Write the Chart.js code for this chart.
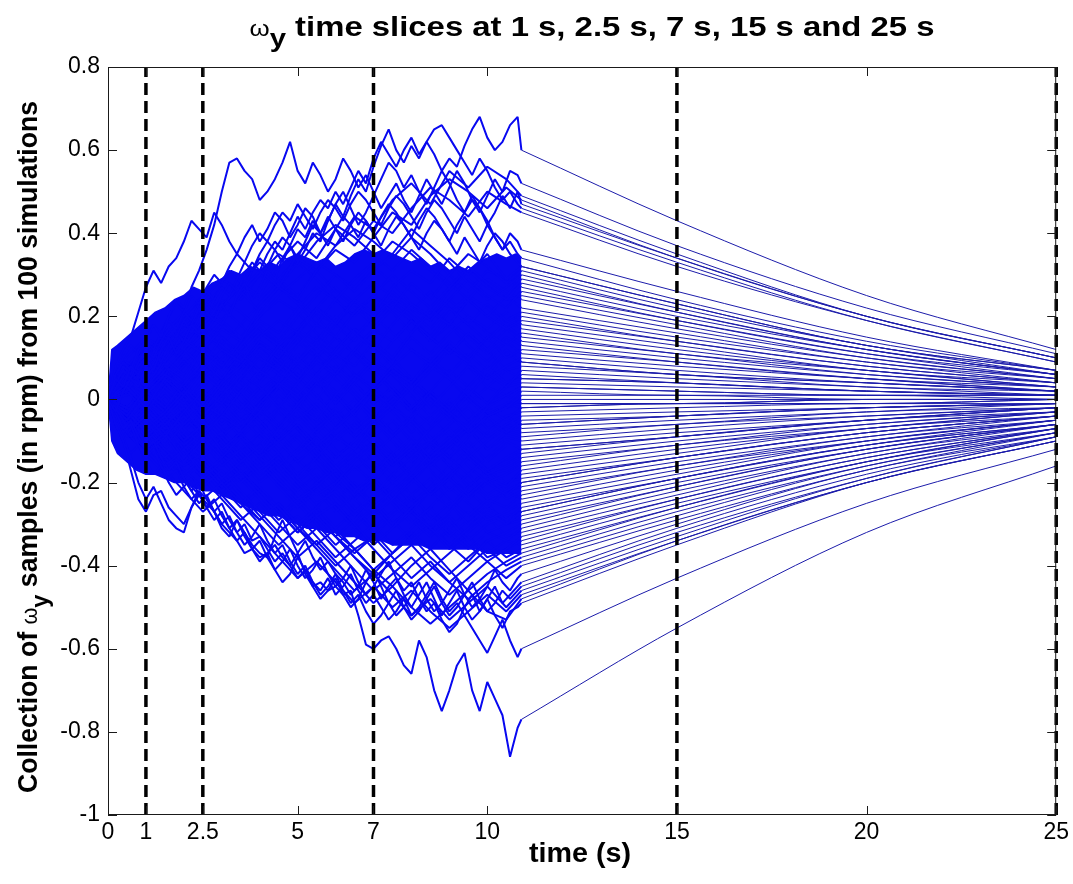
<!DOCTYPE html>
<html>
<head>
<meta charset="utf-8">
<script src="https://cdn.jsdelivr.net/npm/chart.js@4.4.1/dist/chart.umd.min.js"></script>
<style>
  html, body { margin: 0; padding: 0; background: #fff; }
  #wrap { width: 1073px; height: 884px; }
</style>
</head>
<body>
<div id="wrap"><canvas id="omegaChart" width="1073" height="884"></canvas></div>
<script>
// sample times (s)
const tCoarse = [0, 0.5, 1, 1.5, 2, 2.5, 3, 3.5, 4, 4.5, 5, 5.5, 6, 6.5, 7, 7.5, 8, 8.5, 9, 9.5, 10, 10.5, 10.9];
const tFine = [0, 0.2, 0.4, 0.6, 0.8, 1, 1.2, 1.4, 1.6, 1.8, 2, 2.2, 2.4, 2.6, 2.8, 3, 3.2, 3.4, 3.6, 3.8,
  4, 4.2, 4.4, 4.6, 4.8, 5, 5.2, 5.4, 5.6, 5.8, 6, 6.2, 6.4, 6.6, 6.8, 7, 7.2, 7.4, 7.6, 7.8,
  8, 8.2, 8.4, 8.6, 8.8, 9, 9.2, 9.4, 9.6, 9.8, 10, 10.2, 10.4, 10.6, 10.8, 10.9];
const tTail = [10.9, 15, 20, 25];

const sliceTimes = [1, 2.5, 7, 15, 25];
const xTicks = [0, 1, 2.5, 5, 7, 10, 15, 20, 25];
const yTicks = [-1, -0.8, -0.6, -0.4, -0.2, 0, 0.2, 0.4, 0.6, 0.8];

// edges of the region where the 100 traces overlap into solid blue (rpm)
const coreTimes = [0, 0.1, 0.25, 0.5, 0.75, 1, 1.25, 1.5, 1.75, 2, 2.25, 2.5, 2.75, 3, 3.25, 3.5, 3.75,
  4, 4.25, 4.5, 4.75, 5, 5.25, 5.5, 5.75, 6, 6.25, 6.5, 6.75, 7, 7.25, 7.5, 7.75,
  8, 8.25, 8.5, 8.75, 9, 9.25, 9.5, 9.75, 10, 10.25, 10.5, 10.75, 10.9];
const coreTop = [0, 0.12, 0.13, 0.15, 0.17, 0.19, 0.21, 0.22, 0.24, 0.25, 0.27, 0.26, 0.28, 0.29, 0.31, 0.3, 0.32,
  0.31, 0.33, 0.32, 0.34, 0.35, 0.34, 0.33, 0.34, 0.32, 0.33, 0.35, 0.36, 0.35, 0.36, 0.35, 0.34,
  0.33, 0.34, 0.32, 0.33, 0.31, 0.32, 0.31, 0.33, 0.34, 0.35, 0.34, 0.35, 0.34];
const coreBottom = [0, -0.1, -0.13, -0.15, -0.17, -0.18, -0.18, -0.19, -0.2, -0.2, -0.21, -0.22, -0.22, -0.23, -0.24, -0.25, -0.26,
  -0.27, -0.28, -0.28, -0.29, -0.3, -0.31, -0.31, -0.32, -0.32, -0.33, -0.33, -0.34, -0.34, -0.34, -0.35, -0.35,
  -0.35, -0.35, -0.36, -0.36, -0.36, -0.36, -0.36, -0.36, -0.37, -0.37, -0.37, -0.37, -0.37];

// outer traces, every 0.2 s, in 0.01 rpm; after "|" the values at 15, 20 and 25 s
const edgeRuns = [
  "0 5 3 8 6 10 7 12 15 11 14 18 16 21 19 23 20 25 28 24 27 31 29 34 37 33 36 40 38 43 47 44 49 53 50 56 61 65 60 57 61 58 62 59 55 58 56 61 65 68 63 60 62 66 68 60 | 43 25 12",
  "0 6 9 7 12 14 18 15 20 24 22 27 31 36 42 50 57 58 55 53 48 50 53 57 62 55 52 57 54 50 53 58 55 51 54 50 46 49 52 48 45 49 53 50 47 51 55 52 48 45 49 53 50 55 54 52 | 37 22 11",
  "0 8 12 15 21 27 31 28 32 34 38 43 41 39 45 42 38 35 39 42 38 41 45 43 39 42 46 44 40 43 47 50 46 42 45 49 53 57 55 51 54 50 47 51 55 52 48 45 49 46 42 45 49 46 50 47 | 34 20 10",
  "0 4 7 5 9 12 10 14 17 15 19 16 20 23 21 25 28 26 30 33 31 35 38 36 40 44 41 45 48 46 50 47 51 55 52 58 62 59 56 60 63 59 62 65 66 63 60 57 54 58 55 51 48 50 47 46 | 33 19 9",
  "0 4 8 6 11 14 12 16 19 17 21 25 23 27 30 28 32 35 33 37 40 38 42 45 43 47 44 41 45 48 46 43 47 50 48 45 42 46 49 47 44 41 45 48 46 43 40 44 41 38 42 39 36 40 38 36 | 26 15 7",
  "0 -3 2 5 3 8 11 9 13 16 14 18 22 20 24 27 25 29 33 31 35 38 36 33 37 41 39 43 40 37 41 44 42 39 43 40 44 47 45 42 39 43 46 44 41 38 42 45 48 46 43 39 36 38 35 34 | 24 14 7",
  "0 6 10 13 11 15 18 16 20 23 21 19 23 26 24 28 31 29 27 31 34 32 36 39 37 34 38 42 40 44 41 38 42 45 43 40 37 41 44 42 39 36 40 43 41 38 35 39 36 33 37 40 38 35 33 32 | 23 13 7",
  "0 -6 -10 -17 -24 -27 -23 -22 -26 -28 -30 -26 -23 -25 -27 -30 -32 -34 -37 -36 -38 -37 -35 -38 -40 -37 -42 -45 -44 -46 -45 -47 -46 -52 -59 -60 -58 -57 -60 -64 -66 -58 -62 -70 -75 -70 -64 -61 -70 -75 -68 -72 -76 -86 -79 -77 | -55 -32 -16",
  "0 -3 -7 -5 -9 -12 -10 -14 -17 -15 -19 -22 -20 -24 -27 -25 -29 -32 -30 -34 -33 -36 -39 -37 -40 -43 -41 -44 -46 -43 -47 -45 -42 -46 -49 -47 -50 -53 -51 -48 -52 -50 -47 -44 -48 -51 -49 -52 -55 -58 -61 -57 -53 -58 -62 -60 | -43 -25 -12",
  "0 -5 -9 -14 -20 -24 -21 -25 -29 -31 -32 -26 -22 -24 -27 -31 -33 -29 -32 -35 -37 -38 -33 -29 -33 -37 -34 -38 -41 -39 -42 -44 -47 -45 -41 -44 -48 -45 -43 -47 -50 -47 -44 -48 -52 -49 -46 -50 -53 -51 -48 -52 -55 -51 -50 -49 | -35 -20 -10",
  "0 -4 -8 -6 -11 -14 -12 -16 -19 -17 -21 -24 -22 -26 -29 -27 -31 -34 -32 -36 -39 -37 -41 -44 -42 -38 -41 -45 -48 -46 -43 -47 -50 -48 -44 -41 -45 -49 -52 -50 -47 -44 -48 -51 -49 -46 -43 -47 -50 -48 -45 -41 -44 -46 -43 -42 | -30 -17 -9",
  "0 -6 -10 -13 -11 -15 -18 -16 -20 -23 -21 -19 -23 -26 -24 -28 -31 -29 -33 -36 -34 -38 -41 -39 -36 -40 -43 -41 -38 -42 -45 -43 -40 -44 -47 -45 -42 -39 -43 -46 -44 -48 -51 -49 -53 -56 -54 -50 -47 -51 -48 -45 -49 -47 -45 -44 | -31 -18 -9",
  "0 -2 -5 -9 -7 -12 -10 -14 -17 -15 -19 -22 -25 -23 -27 -30 -28 -32 -35 -33 -30 -34 -37 -35 -39 -42 -40 -44 -47 -45 -42 -46 -49 -47 -51 -54 -52 -49 -46 -50 -53 -51 -48 -45 -49 -52 -50 -47 -44 -48 -51 -49 -46 -48 -46 -45 | -32 -19 -9"
];

// remaining traces, every 0.5 s, same units
const runs = [
  "0 7 12 9 16 21 18 26 31 27 35 40 37 44 41 48 52 47 55 51 56 53 49 | 35 20 10",
  "0 -4 3 8 5 12 17 14 22 27 24 31 36 33 39 45 42 49 53 50 46 51 48 | 34 20 10",
  "0 9 6 13 18 15 22 28 25 33 38 34 41 37 43 40 46 51 48 44 50 47 45 | 32 19 9",
  "0 3 -2 5 1 7 12 9 15 19 16 22 18 24 21 27 31 28 34 30 35 29 32 | 23 13 7",
  "0 -8 -4 -9 -3 2 -1 5 10 7 13 18 15 21 25 22 28 24 30 35 32 28 31 | 22 13 6",
  "0 6 2 9 14 11 18 14 20 25 29 33 30 26 31 35 41 37 33 28 24 27 30 | 21 12 6",
  "0 10 15 12 19 24 29 26 21 27 23 18 24 29 33 38 35 31 27 32 28 25 29 | 21 12 6",
  "0 -3 2 -2 4 9 5 11 7 13 17 14 20 16 12 18 23 20 26 31 27 24 28 | 20 12 6",
  "0 4 9 15 12 18 23 27 24 29 34 31 37 41 38 34 39 35 30 26 31 29 27 | 19 11 6",
  "0 -5 1 6 3 -2 4 8 13 10 16 12 18 23 20 26 22 19 24 29 25 22 26 | 19 11 5",
  "0 7 3 10 6 12 8 14 19 16 22 27 24 20 25 30 26 22 27 31 28 24 25 | 18 10 5",
  "0 2 8 13 18 22 19 25 30 35 32 38 42 39 35 31 36 32 28 24 29 26 24 | 17 10 5",
  "0 -7 -12 -8 -14 -9 -4 -7 -1 4 1 6 11 8 14 10 16 21 18 24 20 25 22 | 16 9 5",
  "0 6 12 8 3 9 5 11 16 13 9 14 10 15 20 24 21 17 22 18 23 19 21 | 15 9 4",
  "0 -2 -7 -3 2 -4 1 6 3 -2 4 9 6 12 17 14 19 15 21 25 22 18 20 | 14 8 4",
  "0 9 5 12 17 22 27 24 30 27 33 29 24 20 25 21 16 22 18 24 20 17 19 | 14 8 4",
  "0 4 -1 -6 -2 -8 -4 2 7 4 10 6 12 17 13 9 15 11 16 20 17 21 18 | 13 7 4",
  "0 -4 2 7 12 8 15 11 6 12 17 22 19 24 28 25 21 26 22 18 14 19 17 | 12 7 3",
  "0 8 13 10 15 11 7 13 18 14 20 25 30 27 32 28 23 19 24 20 16 13 16 | 11 7 3",
  "0 -6 -11 -16 -12 -18 -14 -9 -13 -7 -2 -5 1 6 3 8 12 9 14 10 15 18 15 | 11 6 3",
  "0 3 8 4 10 6 2 8 13 9 5 11 7 12 8 14 19 15 11 16 12 17 14 | 10 6 3",
  "0 5 10 15 20 25 22 28 33 29 25 31 26 22 18 23 19 14 19 15 11 15 13 | 9 5 3",
  "0 -9 -5 -11 -6 -1 -4 2 -3 3 8 5 -1 4 9 6 2 7 12 9 15 10 12 | 9 5 2",
  "0 2 -3 3 -1 5 9 6 12 8 4 10 15 11 17 22 19 14 18 13 9 14 11 | 8 5 2",
  "0 6 11 16 13 19 24 21 17 12 16 21 18 14 20 16 12 8 13 9 5 8 10 | 7 4 2",
  "0 -3 -8 -4 -10 -6 -12 -8 -3 -7 -1 4 1 -4 2 7 4 10 6 11 7 12 9 | 6 4 2",
  "0 7 2 8 4 -1 5 1 7 12 9 15 11 6 2 7 3 -2 3 8 5 11 9 | 6 4 2",
  "0 -5 0 -4 1 -3 3 8 14 11 17 22 27 23 19 24 20 15 11 16 12 7 8 | 6 3 2",
  "0 4 9 5 1 -4 1 -3 2 6 3 -2 -7 -3 2 -2 3 8 5 1 6 3 7 | 5 3 1",
  "0 -8 -13 -9 -15 -10 -16 -12 -17 -13 -19 -14 -9 -12 -6 -2 -5 1 -3 3 -1 4 6 | 4 2 1",
  "0 5 1 6 11 16 13 9 4 9 5 0 6 11 7 2 -3 2 -2 3 8 4 5 | 4 2 1",
  "0 -2 3 -1 -6 -2 4 -1 -5 -10 -6 -11 -7 -2 3 8 4 9 13 8 3 7 5 | 4 2 1",
  "0 8 4 10 15 11 6 2 7 3 -2 4 -1 5 10 6 1 -4 0 -5 -1 3 4 | 3 2 1",
  "0 -4 -9 -5 0 -5 -10 -15 -11 -16 -12 -7 -3 -8 -4 1 -3 2 7 3 -1 1 3 | 2 1 1",
  "0 6 1 -3 2 7 3 9 5 10 15 11 6 12 8 3 -2 2 -3 -7 -2 1 3 | 2 1 1",
  "0 -6 -1 5 1 -5 -1 -6 -2 -8 -13 -9 -14 -10 -5 -9 -4 0 -4 1 -3 -1 2 | 1 1 0",
  "0 3 8 13 9 14 19 15 20 24 21 16 12 17 13 8 4 9 5 0 -4 -2 1 | 1 0 0",
  "0 -3 2 -2 -7 -11 -8 -13 -18 -14 -19 -23 -20 -15 -11 -16 -12 -7 -3 -8 -4 -2 0 | 0 0 0",
  "0 7 12 9 14 18 15 10 5 10 6 1 -4 0 -5 -1 4 0 -5 -1 3 1 -1 | -1 0 0",
  "0 -5 -10 -6 -12 -8 -3 -7 -2 3 -1 4 8 4 -1 3 -2 2 -3 1 -4 -2 -1 | -1 0 0",
  "0 2 -3 -8 -4 -9 -14 -10 -15 -20 -24 -21 -17 -22 -18 -13 -9 -14 -10 -6 -2 -5 -2 | -1 -1 0",
  "0 5 10 6 12 17 22 18 13 9 14 10 5 1 -4 0 5 1 -4 -8 -4 -1 -2 | -1 -1 0",
  "0 -7 -3 -9 -5 0 5 1 -4 1 -3 -8 -4 -9 -13 -9 -5 -10 -6 -2 -7 -4 -3 | -2 -1 -1",
  "0 4 0 5 1 -4 0 -5 -1 4 8 13 9 4 -1 3 -2 -6 -1 -5 -9 -6 -4 | -3 -2 -1",
  "0 -2 -7 -12 -16 -13 -9 -14 -19 -15 -20 -25 -22 -27 -23 -18 -14 -10 -14 -9 -5 -8 -5 | -4 -2 -1",
  "0 6 11 16 21 17 13 18 23 28 24 20 15 11 6 10 5 1 -3 1 -4 -8 -6 | -4 -2 -1",
  "0 -4 1 -3 -8 -3 2 -2 3 -1 -5 -1 -6 -2 3 -1 -6 -11 -7 -12 -8 -4 -6 | -4 -2 -1",
  "0 3 -1 -6 -11 -7 -13 -18 -14 -10 -15 -11 -16 -21 -26 -22 -18 -13 -9 -14 -10 -6 -7 | -5 -3 -1",
  "0 -6 -1 4 9 5 10 14 10 6 11 6 2 -3 1 -3 -8 -4 -9 -5 -10 -7 -8 | -6 -3 -2",
  "0 8 4 -1 -5 -1 -6 -2 -7 -12 -8 -13 -18 -14 -10 -14 -19 -15 -11 -7 -12 -8 -9 | -6 -4 -2",
  "0 -3 -8 -3 1 -4 -9 -5 0 5 1 -4 -9 -5 -10 -15 -11 -16 -12 -7 -12 -9 -10 | -7 -4 -2",
  "0 4 9 4 -1 3 8 12 17 13 8 3 7 2 -3 -8 -4 -9 -14 -10 -15 -11 -11 | -8 -5 -2",
  "0 -5 -10 -15 -19 -24 -20 -25 -29 -25 -30 -26 -21 -16 -20 -15 -10 -14 -9 -13 -17 -14 -12 | -9 -5 -2",
  "0 2 7 3 8 13 9 5 0 4 -1 -6 -2 -7 -3 -8 -13 -9 -14 -18 -14 -10 -12 | -9 -5 -2",
  "0 -8 -4 1 -3 -8 -12 -8 -13 -9 -4 -9 -14 -10 -15 -20 -16 -11 -16 -12 -17 -15 -13 | -9 -5 -3",
  "0 6 2 7 3 -2 -6 -1 -5 -10 -6 -11 -16 -12 -8 -13 -18 -23 -19 -14 -18 -16 -14 | -10 -6 -3",
  "0 -4 0 -5 -10 -14 -19 -15 -11 -6 -10 -15 -20 -24 -28 -24 -19 -23 -18 -14 -18 -17 -15 | -11 -6 -3",
  "0 5 10 15 11 16 12 7 11 6 2 -3 1 -4 -9 -5 -10 -15 -11 -16 -20 -18 -16 | -11 -7 -3",
  "0 -2 3 -2 -7 -2 -7 -12 -8 -13 -9 -14 -18 -23 -19 -24 -20 -15 -19 -23 -19 -21 -17 | -12 -7 -3",
  "0 -7 -12 -8 -3 -7 -2 3 -1 4 0 -5 -10 -6 -11 -16 -12 -17 -22 -18 -23 -20 -18 | -13 -7 -4",
  "0 3 -2 -7 -3 -8 -4 -9 -14 -18 -23 -28 -25 -30 -35 -31 -26 -22 -26 -21 -17 -20 -19 | -14 -8 -4",
  "0 7 3 -2 3 8 4 -1 -6 -2 -7 -12 -8 -13 -17 -13 -18 -23 -19 -24 -20 -23 -20 | -14 -8 -4",
  "0 -4 -9 -14 -10 -16 -21 -17 -22 -27 -32 -28 -33 -29 -24 -20 -25 -21 -16 -20 -24 -22 -20 | -14 -8 -4",
  "0 2 -3 1 -4 0 5 9 14 10 6 1 -4 -9 -5 -10 -15 -11 -16 -21 -17 -22 -21 | -15 -9 -4",
  "0 -6 -2 -7 -3 -8 -13 -18 -14 -19 -24 -20 -25 -30 -26 -31 -27 -22 -18 -23 -19 -24 -22 | -16 -9 -5",
  "0 4 -1 4 9 13 9 4 -1 -6 -2 -7 -12 -17 -13 -18 -23 -19 -24 -28 -24 -26 -23 | -16 -10 -5",
  "0 -3 -8 -13 -18 -14 -9 -13 -8 -3 -7 -12 -17 -13 -18 -23 -27 -31 -27 -22 -26 -22 -24 | -17 -10 -5",
  "0 6 11 7 2 -3 -8 -4 -9 -13 -18 -14 -19 -24 -20 -25 -30 -26 -21 -25 -29 -27 -25 | -18 -10 -5",
  "0 -5 -1 -6 -11 -7 -12 -17 -22 -26 -31 -27 -32 -36 -33 -28 -24 -29 -25 -30 -26 -29 -26 | -19 -11 -5",
  "0 1 6 2 -3 1 -4 -9 -5 -10 -15 -20 -16 -21 -25 -30 -26 -31 -35 -31 -27 -30 -27 | -19 -11 -6",
  "0 -8 -13 -18 -14 -19 -15 -20 -16 -21 -26 -22 -27 -23 -19 -24 -29 -33 -29 -34 -30 -28 -27 | -19 -11 -6",
  "0 4 9 5 0 -5 -9 -14 -10 -15 -20 -16 -21 -26 -31 -27 -23 -28 -33 -29 -25 -30 -28 | -20 -12 -6",
  "0 -2 -7 -12 -17 -21 -17 -22 -27 -32 -28 -33 -38 -34 -30 -35 -31 -26 -31 -27 -32 -30 -29 | -21 -12 -6",
  "0 5 0 -5 -10 -6 -11 -16 -12 -17 -22 -18 -23 -28 -24 -29 -34 -30 -35 -39 -34 -32 -30 | -21 -12 -6",
  "0 -6 -11 -7 -12 -17 -22 -18 -23 -28 -24 -29 -33 -38 -42 -37 -33 -28 -32 -36 -32 -34 -31 | -22 -13 -6",
  "0 3 7 3 -2 -7 -12 -8 -13 -18 -14 -19 -24 -20 -25 -30 -26 -31 -36 -32 -28 -33 -32 | -23 -13 -7",
  "0 -4 -9 -14 -19 -15 -20 -25 -21 -26 -31 -35 -40 -36 -41 -37 -32 -36 -31 -35 -39 -36 -33 | -24 -14 -7",
  "0 2 -3 -8 -4 -9 -14 -19 -15 -20 -25 -21 -26 -31 -27 -22 -27 -32 -28 -33 -38 -36 -34 | -24 -14 -7",
  "0 -7 -3 -8 -13 -18 -23 -19 -24 -29 -25 -30 -35 -31 -36 -41 -45 -41 -37 -33 -37 -34 -35 | -25 -15 -7",
  "0 6 1 -4 -9 -14 -10 -15 -20 -16 -21 -26 -31 -27 -32 -37 -33 -38 -42 -38 -34 -38 -36 | -26 -15 -7",
  "0 -3 -8 -4 -9 -14 -19 -24 -29 -25 -30 -35 -31 -36 -41 -45 -40 -36 -41 -46 -42 -39 -37 | -26 -15 -8",
  "0 -5 -10 -15 -11 -16 -21 -26 -22 -27 -32 -28 -33 -38 -43 -39 -35 -40 -44 -40 -36 -40 -38 | -27 -16 -8",
  "0 4 -1 -6 -11 -16 -21 -17 -22 -27 -32 -28 -33 -37 -33 -38 -43 -39 -44 -48 -44 -41 -39 | -28 -16 -8",
  "0 -8 -13 -9 -14 -19 -24 -29 -25 -30 -35 -31 -36 -41 -46 -42 -38 -43 -47 -43 -39 -43 -40 | -29 -17 -8",
  "0 -4 -9 -5 -10 -15 -20 -25 -30 -35 -31 -36 -41 -46 -42 -47 -52 -48 -53 -49 -45 -50 -46 | -33 -19 -9",
  "0 -7 -12 -17 -22 -27 -23 -28 -33 -38 -43 -39 -44 -49 -45 -50 -46 -51 -55 -51 -47 -51 -47 | -34 -20 -10",
  "0 -2 -7 -12 -8 -13 -18 -23 -28 -33 -38 -34 -39 -44 -49 -45 -50 -54 -50 -46 -51 -53 -48 | -34 -20 -10"
];

const traceBlue = 'rgb(8,8,240)';
const tailBlue = 'rgb(28,28,170)';

function trace(times, row) {
  const [head, tail] = row.split('|');
  const v = head.trim().split(/\s+/).map(Number);
  const w = tail.trim().split(/\s+/).map(Number);
  const n = Math.min(times.length, v.length);
  const noisy = [];
  for (let i = 0; i < n; i++) noisy.push({ x: times[i], y: v[i] / 100 });
  const decay = [{ x: tTail[0], y: v[n - 1] / 100 }];
  w.forEach((d, i) => decay.push({ x: tTail[i + 1], y: d / 100 }));
  return { noisy, decay };
}

const datasets = [];

// dashed time slices
sliceTimes.forEach(t => {
  datasets.push({
    data: [{ x: t, y: -1 }, { x: t, y: 0.8 }],
    borderColor: '#000', borderWidth: 3.5, borderDash: [12, 6],
    order: 0, clip: 8
  });
});

edgeRuns.map(r => trace(tFine, r)).concat(runs.map(r => trace(tCoarse, r))).forEach(tr => {
  datasets.push({ data: tr.noisy, borderColor: traceBlue, borderWidth: 2, order: 1 });
  datasets.push({ data: tr.decay, borderColor: tailBlue, borderWidth: 1, cubicInterpolationMode: 'monotone', order: 1 });
});

// solid overlap band
datasets.push({
  data: coreTimes.map((t, i) => ({ x: t, y: coreTop[i] })),
  borderWidth: 1.5, borderColor: traceBlue, backgroundColor: traceBlue, fill: '+1', order: 2
});
datasets.push({
  data: coreTimes.map((t, i) => ({ x: t, y: coreBottom[i] })),
  borderWidth: 1.5, borderColor: traceBlue, order: 2
});

// text with a subscript y, squeezed to the width it has in the figure
function drawRich(ctx, parts, size, width) {
  const fam = '"Liberation Sans Narrow", "Liberation Sans", Arial, sans-serif';
  const fontOf = p => (p.weight || 'bold') + ' ' + Math.round(size * (p.scale || 1)) + 'px ' + fam;
  let total = 0;
  parts.forEach(p => { ctx.font = fontOf(p); p.w = ctx.measureText(p.text).width; total += p.w; });
  ctx.scale(width / total, 1);
  let x = -total / 2;
  ctx.textBaseline = 'alphabetic';
  ctx.textAlign = 'left';
  parts.forEach(p => {
    ctx.font = fontOf(p);
    ctx.fillText(p.text, x, p.sub ? size * 0.4 : 0);
    x += p.w;
  });
}

const frame = {
  id: 'frame',
  afterDraw(chart) {
    const { ctx, chartArea: a, scales: { x, y } } = chart;
    ctx.save();
    ctx.strokeStyle = '#1a1a1a';
    ctx.lineWidth = 1;
    ctx.strokeRect(a.left + 0.5, a.top + 0.5, a.right - a.left - 1, a.bottom - a.top - 1);
    ctx.beginPath();
    xTicks.forEach(v => {
      const px = Math.round(x.getPixelForValue(v)) + 0.5;
      ctx.moveTo(px, a.bottom); ctx.lineTo(px, a.bottom - 9);
      ctx.moveTo(px, a.top); ctx.lineTo(px, a.top + 9);
    });
    yTicks.forEach(v => {
      const py = Math.round(y.getPixelForValue(v)) + 0.5;
      ctx.moveTo(a.left, py); ctx.lineTo(a.left + 9, py);
      ctx.moveTo(a.right, py); ctx.lineTo(a.right - 9, py);
    });
    ctx.stroke();

    ctx.fillStyle = '#000';
    ctx.save();
    ctx.translate(592, 36);
    drawRich(ctx, [
      { text: 'ω', weight: 'normal', scale: 0.8 },
      { text: 'y', sub: true, scale: 0.9 },
      { text: ' time slices at 1 s, 2.5 s, 7 s, 15 s and 25 s' }
    ], 28, 685);
    ctx.restore();

    ctx.save();
    ctx.translate(580, 862);
    drawRich(ctx, [{ text: 'time (s)' }], 28, 102);
    ctx.restore();

    ctx.save();
    ctx.translate(37, 447);
    ctx.rotate(-Math.PI / 2);
    drawRich(ctx, [
      { text: 'Collection of ' },
      { text: 'ω', weight: 'normal', scale: 0.8 },
      { text: 'y', sub: true, scale: 0.9 },
      { text: ' samples (in rpm) from 100 simulations' }
    ], 27, 692);
    ctx.restore();
    ctx.restore();
  }
};

Chart.defaults.font.family = '"Liberation Sans", Arial, sans-serif';
Chart.defaults.color = '#000';

new Chart(document.getElementById('omegaChart'), {
  type: 'line',
  data: { datasets },
  options: {
    responsive: false,
    devicePixelRatio: 1,
    animation: false,
    events: [],
    parsing: false,
    normalized: true,
    elements: {
      point: { radius: 0 },
      line: { tension: 0, fill: false, borderJoinStyle: 'bevel' }
    },
    layout: { padding: { top: 67, right: 15, left: 0, bottom: 0 } },
    plugins: { legend: { display: false }, tooltip: { enabled: false } },
    scales: {
      x: {
        type: 'linear', min: 0, max: 25,
        afterBuildTicks: s => { s.ticks = xTicks.map(v => ({ value: v })); },
        afterFit: s => { s.height = 69; },
        grid: { display: false, drawTicks: false },
        border: { display: false },
        ticks: { font: { size: 23 }, padding: 4, maxRotation: 0, autoSkip: false, callback: v => String(v) }
      },
      y: {
        type: 'linear', min: -1, max: 0.8,
        afterBuildTicks: s => { s.ticks = yTicks.map(v => ({ value: v })); },
        afterFit: s => { s.width = 108; },
        grid: { display: false, drawTicks: false },
        border: { display: false },
        ticks: { font: { size: 23 }, padding: 8, autoSkip: false, callback: v => String(Number(v.toFixed(1))) }
      }
    }
  },
  plugins: [frame]
});
</script>
</body>
</html>
